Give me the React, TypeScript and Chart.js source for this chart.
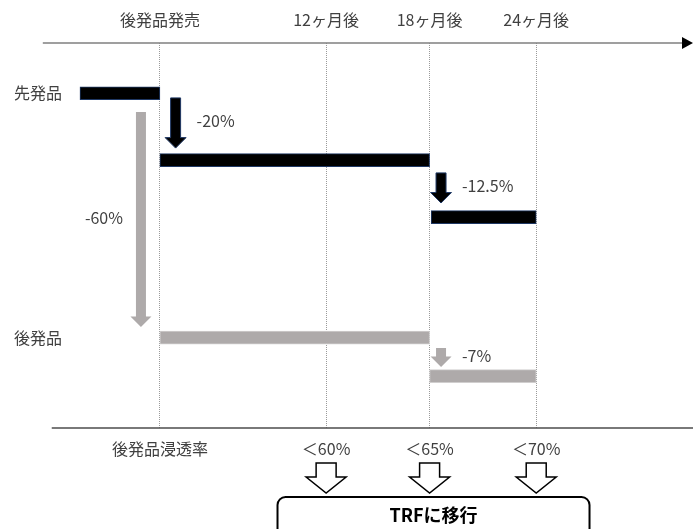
import React, { useEffect, useRef } from "react";
import { Chart, registerables } from "chart.js";

Chart.register(...registerables);

// ---- data ----
const milestoneLabels = ["後発品発売", "12ヶ月後", "18ヶ月後", "24ヶ月後"];
// schematic position of each milestone on the timeline (the original is not drawn to scale)
const milestonePos = [0, 10.6, 17.2, 24];
const penetrationLabels = ["後発品浸透率", "＜60%", "＜65%", "＜70%"];

const seriesNames = ["先発品", "後発品"];

// originator (先発品) price level per period (schematic level)
const originatorStart = [-5.1, 0, 17.3];
const originatorEnd = [0, 17.2, 24];
const originatorLevel = [100, 80, 63];

// generic (後発品) price level per period (schematic level)
const genericStart = [0, 17.2];
const genericEnd = [17.2, 24];
const genericLevel = [27, 15.5];

// price cut arrows
const dropLabels = ["-20%", "-12.5%", "-60%", "-7%"];
const dropSeries = [0, 0, 1, 1];
const dropX = [1.0, 17.93, -1.21, 17.93];
const dropFrom = [98.6, 76.2, 94.4, 23.9];
const dropTo = [83.6, 67.2, 30.2, 18.2];
const dropLabelSide = ["right", "right", "left", "right"];

const trfLabel = "TRFに移行";
const trfFrom = 7.5;
const trfTo = 27.4;

// ---- styles ----
const FONT = "'Noto Sans CJK JP', 'Noto Sans', sans-serif";
const TEXT = "#404040";
const DARK_FILL = "#000000";
const DARK_EDGE = "#1f3864";
const LIGHT_FILL = "#aeaaaa";
const LIGHT_EDGE = "#d0cece";
const X_MIN = -10.2;
const X_MAX = 34.0;
const TOP_AXIS_START = -7.47;
const BOTTOM_AXIS_START = -6.9;
const LABEL_X = -9.3;

function downArrow(
  ctx: CanvasRenderingContext2D,
  cx: number,
  yTop: number,
  yTip: number,
  shaftW: number,
  headW: number,
  headL: number,
  fill: string,
  stroke: string,
  lw: number
) {
  const yHead = yTip - headL;
  ctx.beginPath();
  ctx.moveTo(cx - shaftW / 2, yTop);
  ctx.lineTo(cx + shaftW / 2, yTop);
  ctx.lineTo(cx + shaftW / 2, yHead);
  ctx.lineTo(cx + headW / 2, yHead);
  ctx.lineTo(cx, yTip);
  ctx.lineTo(cx - headW / 2, yHead);
  ctx.lineTo(cx - shaftW / 2, yHead);
  ctx.closePath();
  ctx.fillStyle = fill;
  ctx.fill();
  if (lw > 0) {
    ctx.strokeStyle = stroke;
    ctx.lineWidth = lw;
    ctx.lineJoin = "miter";
    ctx.stroke();
  }
}

const diagramPlugin = {
  id: "diagram",
  afterDatasetsDraw(chart: any) {
    const { ctx, scales } = chart;
    const x = scales.x;
    const y = scales.y;
    ctx.save();
    dropLabels.forEach((lab, i) => {
      const dark = dropSeries[i] === 0;
      const cx = x.getPixelForValue(dropX[i]);
      const y0 = y.getPixelForValue(dropFrom[i]);
      const y1 = y.getPixelForValue(dropTo[i]);
      downArrow(
        ctx,
        cx,
        y0,
        y1,
        10,
        21,
        10.5,
        dark ? DARK_FILL : LIGHT_FILL,
        dark ? DARK_EDGE : LIGHT_EDGE,
        dark ? 1 : 0
      );
      ctx.font = `16px ${FONT}`;
      ctx.fillStyle = TEXT;
      ctx.textBaseline = "middle";
      const my = (y0 + y1) / 2 - 2;
      if (dropLabelSide[i] === "right") {
        ctx.textAlign = "left";
        ctx.fillText(lab, cx + 21, my);
      } else {
        ctx.textAlign = "right";
        ctx.fillText(lab, cx - 18, my);
      }
    });
    ctx.restore();
  },
  afterDraw(chart: any) {
    const { ctx, scales, chartArea } = chart;
    const x = scales.x;
    const y = scales.y;
    ctx.save();
    // top time axis with arrow
    const W = chart.width;
    ctx.strokeStyle = "#7f7f7f";
    ctx.lineWidth = 1.5;
    ctx.beginPath();
    ctx.moveTo(x.getPixelForValue(TOP_AXIS_START), chartArea.top);
    ctx.lineTo(W - 10, chartArea.top);
    ctx.stroke();
    ctx.fillStyle = "#000000";
    ctx.beginPath();
    ctx.moveTo(W - 11, chartArea.top - 6);
    ctx.lineTo(W, chartArea.top);
    ctx.lineTo(W - 11, chartArea.top + 6);
    ctx.closePath();
    ctx.fill();

    // bottom axis
    ctx.strokeStyle = "#4d4d4d";
    ctx.lineWidth = 1.5;
    ctx.beginPath();
    ctx.moveTo(x.getPixelForValue(BOTTOM_AXIS_START), chartArea.bottom);
    ctx.lineTo(W, chartArea.bottom);
    ctx.stroke();

    // series labels
    ctx.font = `16px ${FONT}`;
    ctx.fillStyle = TEXT;
    ctx.textAlign = "left";
    ctx.textBaseline = "middle";
    ctx.fillText(seriesNames[0], x.getPixelForValue(LABEL_X), y.getPixelForValue(originatorLevel[0]));
    ctx.fillText(seriesNames[1], x.getPixelForValue(LABEL_X), y.getPixelForValue(genericLevel[0]));

    // hollow arrows to TRF box
    const b = chartArea.bottom;
    for (let i = 1; i < milestonePos.length; i++) {
      const cx = x.getPixelForValue(milestonePos[i]);
      downArrow(ctx, cx, b + 35, b + 65, 20, 40, 16, "#ffffff", "#000000", 1.5);
    }

    // TRF box
    const l = x.getPixelForValue(trfFrom);
    const r = x.getPixelForValue(trfTo);
    const t = b + 69;
    const rad = 8;
    const bot = chart.height + 20;
    ctx.beginPath();
    ctx.moveTo(l, bot);
    ctx.lineTo(l, t + rad);
    ctx.arcTo(l, t, l + rad, t, rad);
    ctx.lineTo(r - rad, t);
    ctx.arcTo(r, t, r, t + rad, rad);
    ctx.lineTo(r, bot);
    ctx.strokeStyle = "#000000";
    ctx.lineWidth = 2;
    ctx.stroke();
    ctx.font = `bold 18px ${FONT}`;
    ctx.fillStyle = "#000000";
    ctx.textAlign = "center";
    ctx.textBaseline = "middle";
    ctx.fillText(trfLabel, (l + r) / 2, b + 87);
    ctx.restore();
  },
};

export default function App() {
  const ref = useRef<HTMLCanvasElement>(null);
  useEffect(() => {
    document.body.style.margin = "0";
    const canvas = ref.current!;
    const setTicks = (s: any) => {
      s.ticks = milestonePos.map((v) => ({ value: v }));
    };
    const chart = new Chart(canvas, {
      type: "bar",
      data: {
        datasets: [
          {
            label: seriesNames[0],
            data: originatorLevel.map((lv, i) => ({ x: [originatorStart[i], originatorEnd[i]], y: lv })) as any,
            backgroundColor: DARK_FILL,
            borderColor: DARK_EDGE,
            borderWidth: 1,
            borderSkipped: false,
            barThickness: 13,
            grouped: false,
            xAxisID: "x",
            yAxisID: "y",
          } as any,
          {
            label: seriesNames[1],
            data: genericLevel.map((lv, i) => ({ x: [genericStart[i], genericEnd[i]], y: lv })) as any,
            backgroundColor: LIGHT_FILL,
            borderColor: LIGHT_EDGE,
            borderWidth: 1,
            borderSkipped: false,
            barThickness: 13,
            grouped: false,
            xAxisID: "x",
            yAxisID: "y",
          } as any,
        ],
      },
      options: {
        indexAxis: "y",
        animation: false,
        responsive: false,
        layout: { padding: 0 },
        plugins: { legend: { display: false }, tooltip: { enabled: false } },
        scales: {
          x: {
            type: "linear",
            position: "bottom",
            min: X_MIN,
            max: X_MAX,
            afterBuildTicks: setTicks,
            afterFit: (s: any) => {
              s.height = 101;
              s.paddingLeft = 0;
              s.paddingRight = 0;
            },
            ticks: {
              callback: (_v: any, i: number) => penetrationLabels[i],
              padding: 11,
              autoSkip: false,
              minRotation: 0,
              maxRotation: 0,
              color: TEXT,
              font: { family: FONT, size: 16 },
            },
            grid: { display: false, drawTicks: false },
            border: { display: false },
          },
          xTop: {
            type: "linear",
            position: "top",
            min: X_MIN,
            max: X_MAX,
            afterBuildTicks: setTicks,
            afterFit: (s: any) => {
              s.height = 43;
              s.paddingLeft = 0;
              s.paddingRight = 0;
            },
            ticks: {
              callback: (_v: any, i: number) => milestoneLabels[i],
              padding: 13,
              autoSkip: false,
              minRotation: 0,
              maxRotation: 0,
              color: TEXT,
              font: { family: FONT, size: 16 },
            },
            grid: { display: true, drawTicks: false, color: "#9a9a9a", lineWidth: 1 },
            border: { display: false, dash: [1, 1] },
          },
          y: {
            type: "linear",
            display: false,
            min: 0,
            max: 115,
            offset: false,
          },
        },
      } as any,
      plugins: [diagramPlugin],
    });
    return () => chart.destroy();
  }, []);
  return (
    <div style={{ width: 693, height: 529 }}>
      <canvas ref={ref} width={693} height={529} style={{ display: "block" }} />
    </div>
  );
}
